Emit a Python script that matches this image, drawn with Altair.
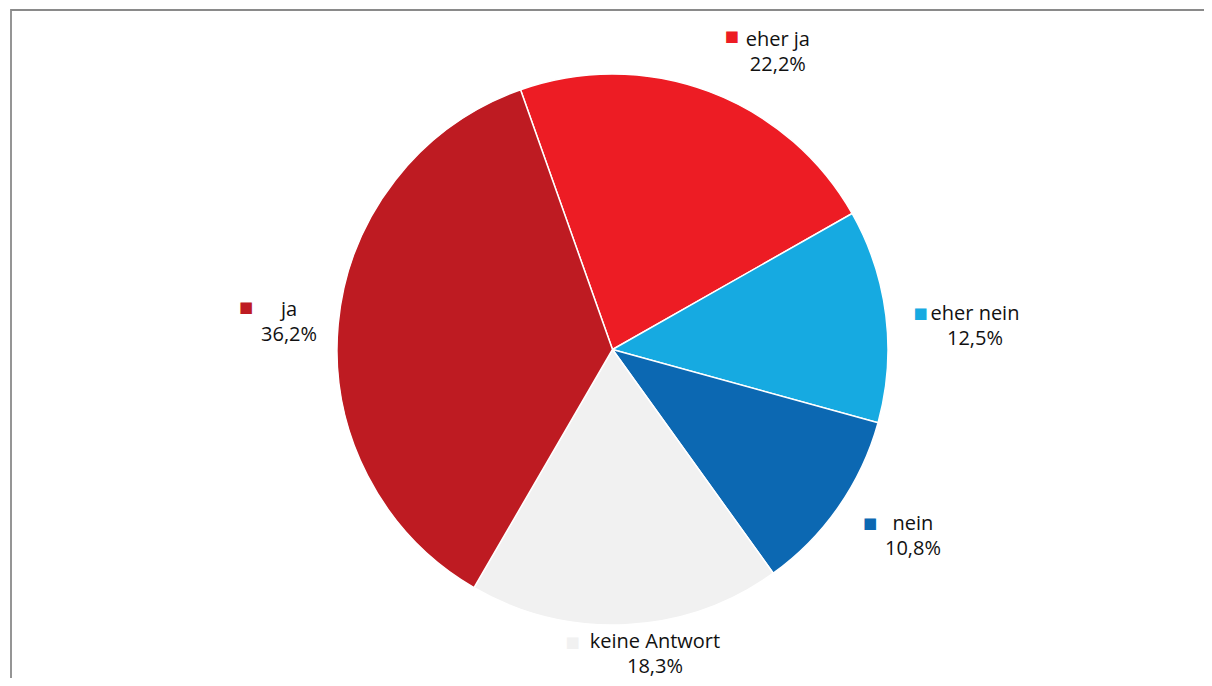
import math
import altair as alt
import pandas as pd

# ---------------- data ----------------
categories = ["eher ja", "eher nein", "nein", "keine Antwort", "ja"]
values = [22.2, 12.5, 10.8, 18.3, 36.2]
pct_labels = ["22,2%", "12,5%", "10,8%", "18,3%", "36,2%"]
colors = ["#ED1C24", "#16AAE1", "#0C68B2", "#F1F1F1", "#BE1B22"]

# ---------------- layout ----------------
W, H = 1196, 670
CX, CY = 604.5, 341.5
R = 275.5
LABEL_R = 330
START_DEG = -19.5
LINE_GAP = 12.5
FONT = "Open Sans"
# nudge of each label block centre from its polar anchor (dx, dy)
label_nudge = [(50, 18.6), (35, 23.2), (29.7, 3.9), (26.6, -18.6), (5.1, 10.2)]
# position of the colour key relative to label block centre
key_offset = [(-46, -22.8), (-54.5, -19.5), (-43, -19.5), (-82.5, -19), (-43, -22)]

df = pd.DataFrame({
    "cat": categories,
    "value": values,
    "pct": pct_labels,
    "idx": list(range(len(categories))),
})

total = sum(values)
start = math.radians(START_DEG)
theta_scale = alt.Scale(domain=[0, total], range=[start, start + 2 * math.pi])
color_scale = alt.Scale(domain=categories, range=colors)

base = (
    alt.Chart(df)
    .transform_stack(stack="value", groupby=[], as_=["v0", "v1"],
                     sort=[alt.SortField("idx", order="ascending")])
    .transform_calculate(mid="(datum.v0 + datum.v1) / 2")
)

pie = base.mark_arc(radius=R, stroke="white", strokeWidth=1.5).encode(
    theta=alt.Theta("v0:Q", scale=theta_scale),
    theta2="v1:Q",
    color=alt.Color("cat:N", scale=color_scale, legend=None),
    x=alt.value(CX),
    y=alt.value(CY),
)

layers = [pie]
for i, c in enumerate(categories):
    ndx, ndy = label_nudge[i]
    kdx, kdy = key_offset[i]
    sub = base.transform_filter(alt.datum.cat == c)
    enc = dict(
        theta=alt.Theta("mid:Q", scale=theta_scale, stack=False),
        radius=alt.value(LABEL_R),
        x=alt.value(CX),
        y=alt.value(CY),
    )
    name = sub.mark_text(
        font=FONT, fontSize=20, color="#111111", align="center",
        baseline="alphabetic", dx=ndx, dy=ndy - LINE_GAP,
    ).encode(text="cat:N", **enc)
    pct = sub.mark_text(
        font=FONT, fontSize=20, color="#111111", align="center",
        baseline="alphabetic", dx=ndx, dy=ndy + LINE_GAP,
    ).encode(text="pct:N", **enc)
    key = sub.mark_text(
        font="DejaVu Sans", fontSize=15, align="center", baseline="middle",
        text="\u25A0", dx=ndx + kdx, dy=ndy + kdy,
    ).encode(color=alt.Color("cat:N", scale=color_scale, legend=None), **enc)
    layers += [name, pct, key]

frame_df = pd.DataFrame({"a": [0]})
frame = alt.Chart(frame_df).mark_rect(
    fillOpacity=0, stroke="#8a8a8a", strokeWidth=1.8
).encode(
    x=alt.value(3), x2=alt.value(W + 20), y=alt.value(2), y2=alt.value(H + 20)
)
layers += [frame]

chart = (
    alt.layer(*layers)
    .properties(width=W, height=H, padding=0, autosize=alt.AutoSizeParams(type="none"))
    .configure_view(strokeWidth=0)
)

chart.save("out.html", embed_options={"renderer": "svg", "actions": False})
